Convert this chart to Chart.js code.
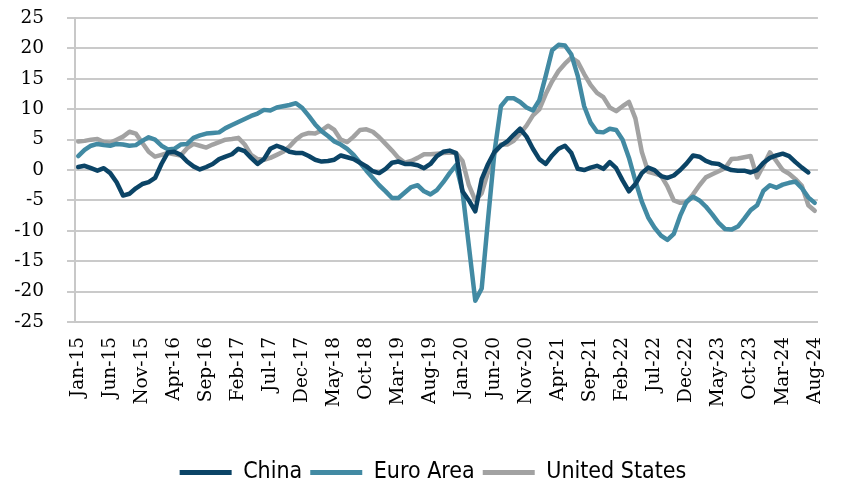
<!DOCTYPE html>
<html>
<head>
<meta charset="utf-8">
<script src="https://cdn.jsdelivr.net/npm/chart.js@4.4.0/dist/chart.umd.min.js"></script>
<style>
  html, body { margin: 0; padding: 0; background: #fff; }
  #wrap { width: 844px; height: 487px; }
</style>
</head>
<body>
<div id="wrap"><canvas id="chart" width="844" height="487"></canvas></div>
<script>
// month labels, Jan-15 .. Aug-24
let monthNames = ['Jan', 'Feb', 'Mar', 'Apr', 'May', 'Jun', 'Jul', 'Aug', 'Sep', 'Oct', 'Nov', 'Dec'];
let labels = [];
for (let y = 15; y <= 24; y++) {
    for (let m = 0; m < 12; m++) {
        if (y == 24 && m > 7) break;
        labels.push(monthNames[m] + '-' + y);
    }
}

let china = [0.5, 0.7, 0.3, -0.1, 0.3, -0.5, -2.0, -4.2, -3.9, -3.0,
    -2.3, -2.0, -1.3, 1.0, 2.9, 3.0, 2.5, 1.4, 0.6, 0.1,
    0.5, 1.0, 1.8, 2.2, 2.6, 3.5, 3.1, 2.0, 1.0, 1.8,
    3.5, 4.0, 3.6, 3.0, 2.8, 2.8, 2.3, 1.7, 1.4, 1.5,
    1.7, 2.4, 2.1, 1.8, 1.2, 0.6, -0.2, -0.5, 0.2, 1.2,
    1.4, 1.0, 1.0, 0.8, 0.3, 1.0, 2.3, 3.0, 3.2, 2.8,
    -3.5, -5.0, -6.8, -1.5, 1.0, 3.0, 4.0, 4.7, 5.8, 6.8,
    5.5, 3.5, 1.8, 1.0, 2.4, 3.5, 4.0, 2.8, 0.2, 0.0,
    0.4, 0.7, 0.2, 1.3, 0.3, -1.7, -3.5, -2.3, -0.5, 0.4,
    0.0, -1.0, -1.3, -0.9, 0.0, 1.1, 2.4, 2.2, 1.5, 1.1,
    1.0, 0.4, 0.0, -0.1, -0.1, -0.4, 0.0, 1.2, 2.0, 2.4,
    2.7, 2.3, 1.3, 0.4, -0.4, null];

let euro = [2.3, 3.3, 4.0, 4.3, 4.1, 4.0, 4.3, 4.2, 4.0, 4.1,
    4.8, 5.4, 5.0, 4.0, 3.4, 3.5, 4.2, 4.3, 5.3, 5.7,
    6.0, 6.1, 6.2, 6.9, 7.4, 7.9, 8.4, 8.9, 9.3, 9.9,
    9.8, 10.3, 10.5, 10.7, 11.0, 10.2, 8.9, 7.5, 6.4, 5.6,
    4.7, 4.2, 3.5, 2.5, 1.2, -0.1, -1.3, -2.5, -3.5, -4.6,
    -4.6, -3.7, -2.8, -2.5, -3.5, -4.0, -3.3, -2.0, -0.5, 0.8,
    -3.5, -12.5, -21.5, -19.5, -8.0, 3.0, 10.5, 11.8, 11.8, 11.2,
    10.3, 9.8, 11.5, 15.5, 19.7, 20.6, 20.5, 19.0, 15.5, 10.5,
    7.8, 6.3, 6.2, 6.8, 6.6, 5.0, 2.0, -1.8, -5.2, -7.8,
    -9.5, -10.8, -11.5, -10.5, -7.5, -5.2, -4.4, -5.0, -6.0, -7.3,
    -8.7, -9.7, -9.8, -9.3, -8.0, -6.6, -5.8, -3.4, -2.5, -2.9,
    -2.4, -2.1, -1.9, -3.0, -4.5, -5.4];

let us = [4.7, 4.8, 5.0, 5.1, 4.6, 4.5, 5.0, 5.5, 6.3, 6.0,
    4.5, 3.0, 2.2, 2.5, 2.8, 2.6, 2.4, 3.6, 4.3, 4.0,
    3.7, 4.2, 4.6, 5.0, 5.1, 5.3, 4.2, 2.5, 1.8, 1.7,
    2.0, 2.5, 3.0, 3.9, 5.0, 5.8, 6.1, 6.0, 6.5, 7.3,
    6.6, 5.0, 4.6, 5.5, 6.6, 6.7, 6.3, 5.4, 4.3, 3.2,
    2.0, 1.2, 1.5, 2.0, 2.6, 2.6, 2.7, 2.8, 2.9, 2.8,
    1.5, -2.5, -5.0, -3.8, -0.3, 2.8, 4.2, 4.2, 4.8, 6.0,
    7.3, 9.0, 10.0, 12.5, 14.6, 16.3, 17.5, 18.5, 17.8, 15.8,
    14.0, 12.7, 12.0, 10.3, 9.7, 10.5, 11.2, 8.5, 3.0, -0.3,
    -0.6, -0.9, -2.7, -5.0, -5.4, -5.3, -4.0, -2.5, -1.2, -0.7,
    -0.2, 0.3, 1.8, 1.9, 2.1, 2.3, -1.2, 0.8, 2.9, 1.5,
    0.0, -0.6, -1.5, -2.6, -5.8, -6.7];

let seriesNames = ['China', 'Euro Area', 'United States'];
let seriesColors = ['#0b4466', '#428aa3', '#a2a2a2'];

let tickFont = { family: "'DejaVu Serif', 'Liberation Serif', serif", size: 18.5 };

function make_ds(name, data, color) {
    return {
        label: name,
        data: data,
        borderColor: color,
        backgroundColor: color,
        borderWidth: 4.5,
        pointRadius: 0,
        tension: 0,
        borderJoinStyle: 'round',
        borderCapStyle: 'round',
        spanGaps: false
    };
}

// nudge the legend a little down and right, like the original
const legendShift = {
    id: 'legendShift',
    afterLayout(chart) {
        let lg = chart.legend;
        if (!lg) return;
        lg.left += 20; lg.right += 20;
        lg.top += 7; lg.bottom += 7;
    }
};

let ctx = document.getElementById('chart');
let chart = new Chart(ctx, {
    type: 'line',
    data: {
        labels: labels,
        datasets: [
            make_ds(seriesNames[0], china, seriesColors[0]),
            make_ds(seriesNames[1], euro, seriesColors[1]),
            make_ds(seriesNames[2], us, seriesColors[2])
        ]
    },
    plugins: [legendShift],
    options: {
        responsive: false,
        animation: false,
        layout: { padding: { left: 0, right: 18, top: 6, bottom: 0 } },
        scales: {
            x: {
                offset: true,
                grid: { display: false },
                border: { display: true, color: '#c8c8c8', width: 2 },
                ticks: {
                    autoSkip: false,
                    minRotation: 90,
                    maxRotation: 90,
                    padding: 7,
                    color: '#000',
                    font: tickFont,
                    callback: function (value, index) {
                        return index % 5 === 0 ? this.getLabelForValue(value) : null;
                    }
                },
                afterFit: function (scale) { scale.height = 124; }
            },
            y: {
                min: -25,
                max: 25,
                // long tick slot keeps labels away from the axis; dash shows only the last 8px
                grid: { color: '#cacaca', lineWidth: 2, tickLength: 24, tickBorderDash: [0, 16, 8, 100] },
                border: { display: true, color: '#c8c8c8', width: 2 },
                ticks: { stepSize: 5, color: '#000', font: tickFont, padding: 7 },
                afterFit: function (scale) { scale.width = 75; }
            }
        },
        plugins: {
            legend: {
                position: 'bottom',
                labels: {
                    color: '#000',
                    font: { family: "'Liberation Sans Narrow', 'DejaVu Sans Condensed', sans-serif", size: 23 },
                    boxWidth: 52,
                    boxHeight: 5,
                    padding: 8,
                    generateLabels: function (chart) {
                        let items = Chart.defaults.plugins.legend.labels.generateLabels(chart);
                        items.forEach(it => { it.lineWidth = 0; it.fillStyle = it.strokeStyle; });
                        return items;
                    }
                }
            },
            tooltip: { enabled: false }
        }
    }
});
</script>
</body>
</html>
